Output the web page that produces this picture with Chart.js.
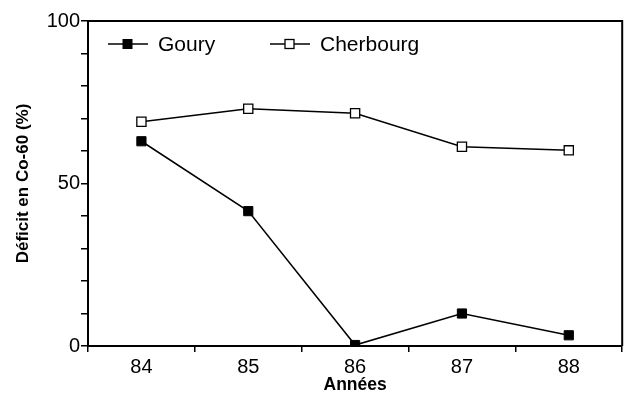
<!DOCTYPE html>
<html>
<head>
<meta charset="utf-8">
<script src="https://cdn.jsdelivr.net/npm/chart.js@4/dist/chart.umd.min.js"></script>
<style>
  html, body { margin: 0; padding: 0; background: #fff; }
  #wrap { width: 630px; height: 397px; }
</style>
</head>
<body>
<div id="wrap"><canvas id="chart"></canvas></div>
<script>
// years on the x axis
const annees = ['84', '85', '86', '87', '88'];
// Co-60 deficit (%)
const goury = [63, 41.5, 0.3, 10, 3.3];
const cherbourg = [69, 73, 71.6, 61.3, 60.2];

const FONT = "'Liberation Sans', Arial, Helvetica, sans-serif";

// box around the plot + legend drawn inside the plot area, top-left
const frameAndLegend = {
    id: 'frameAndLegend',
    afterDraw(chart) {
        const ctx = chart.ctx;
        const a = chart.chartArea;
        ctx.save();
        ctx.strokeStyle = '#000';
        ctx.lineWidth = 2;
        ctx.beginPath();
        ctx.moveTo(a.left, a.top);
        ctx.lineTo(a.right, a.top);
        ctx.lineTo(a.right, a.bottom);
        ctx.stroke();

        const entries = [
            { ds: chart.data.datasets[0], x: a.left + 20 },
            { ds: chart.data.datasets[1], x: a.left + 182 }
        ];
        const y = a.top + 23;
        entries.forEach(e => {
            ctx.strokeStyle = '#000';
            ctx.lineWidth = 1.5;
            ctx.beginPath();
            ctx.moveTo(e.x, y);
            ctx.lineTo(e.x + 40, y);
            ctx.stroke();
            ctx.fillStyle = e.ds.pointBackgroundColor;
            ctx.strokeStyle = e.ds.pointBorderColor;
            ctx.lineWidth = e.ds.pointBorderWidth;
            ctx.fillRect(e.x + 15, y - 4.5, 9, 9);
            ctx.strokeRect(e.x + 15, y - 4.5, 9, 9);
            ctx.fillStyle = '#000';
            ctx.font = '21px ' + FONT;
            ctx.textBaseline = 'middle';
            ctx.fillText(e.ds.label, e.x + 50, y + 1);
        });
        ctx.restore();
    }
};

const chart = new Chart(document.getElementById('chart'), {
    type: 'line',
    data: {
        labels: annees,
        datasets: [{
            label: 'Goury',
            data: goury,
            borderColor: '#000',
            borderWidth: 1.5,
            pointStyle: 'rect',
            pointRadius: 6.5,
            pointBackgroundColor: '#000',
            pointBorderColor: '#000',
            pointBorderWidth: 1,
            tension: 0
        },
        {
            label: 'Cherbourg',
            data: cherbourg,
            borderColor: '#000',
            borderWidth: 1.5,
            pointStyle: 'rect',
            pointRadius: 6.5,
            pointBackgroundColor: '#fff',
            pointBorderColor: '#000',
            pointBorderWidth: 1.3,
            tension: 0
        }]
    },
    options: {
        responsive: true,
        maintainAspectRatio: false,
        animation: false,
        layout: { padding: { top: 21, right: 5, left: 0, bottom: 0 } },
        plugins: {
            legend: { display: false },
            tooltip: { enabled: false }
        },
        scales: {
            x: {
                offset: true,
                grid: {
                    offset: true,
                    drawOnChartArea: false,
                    drawTicks: true,
                    tickLength: 6,
                    color: '#000',
                    lineWidth: 1.5
                },
                border: { color: '#000', width: 2 },
                ticks: {
                    color: '#000',
                    padding: 3,
                    font: { family: FONT, size: 20 }
                },
                title: {
                    display: true,
                    text: 'Années',
                    color: '#000',
                    padding: { top: 0, bottom: 1 },
                    font: { family: FONT, size: 17.5, weight: 'bold' }
                },
                afterFit(scale) { scale.height = 51; }
            },
            y: {
                min: 0,
                max: 100,
                grid: {
                    drawOnChartArea: false,
                    drawTicks: true,
                    tickLength: 7,
                    color: '#000',
                    lineWidth: 1.5
                },
                border: { color: '#000', width: 2 },
                ticks: {
                    stepSize: 10,
                    color: '#000',
                    padding: 1,
                    autoSkip: false,
                    font: { family: FONT, size: 20 },
                    callback: v => (v % 50 === 0 ? v : '')
                },
                title: {
                    display: true,
                    text: 'Déficit en Co-60 (%)',
                    color: '#000',
                    padding: { top: 13, bottom: 0 },
                    font: { family: FONT, size: 17, weight: 'bold' }
                },
                afterFit(scale) { scale.width = 88; }
            }
        }
    },
    plugins: [frameAndLegend]
});
</script>
</body>
</html>
